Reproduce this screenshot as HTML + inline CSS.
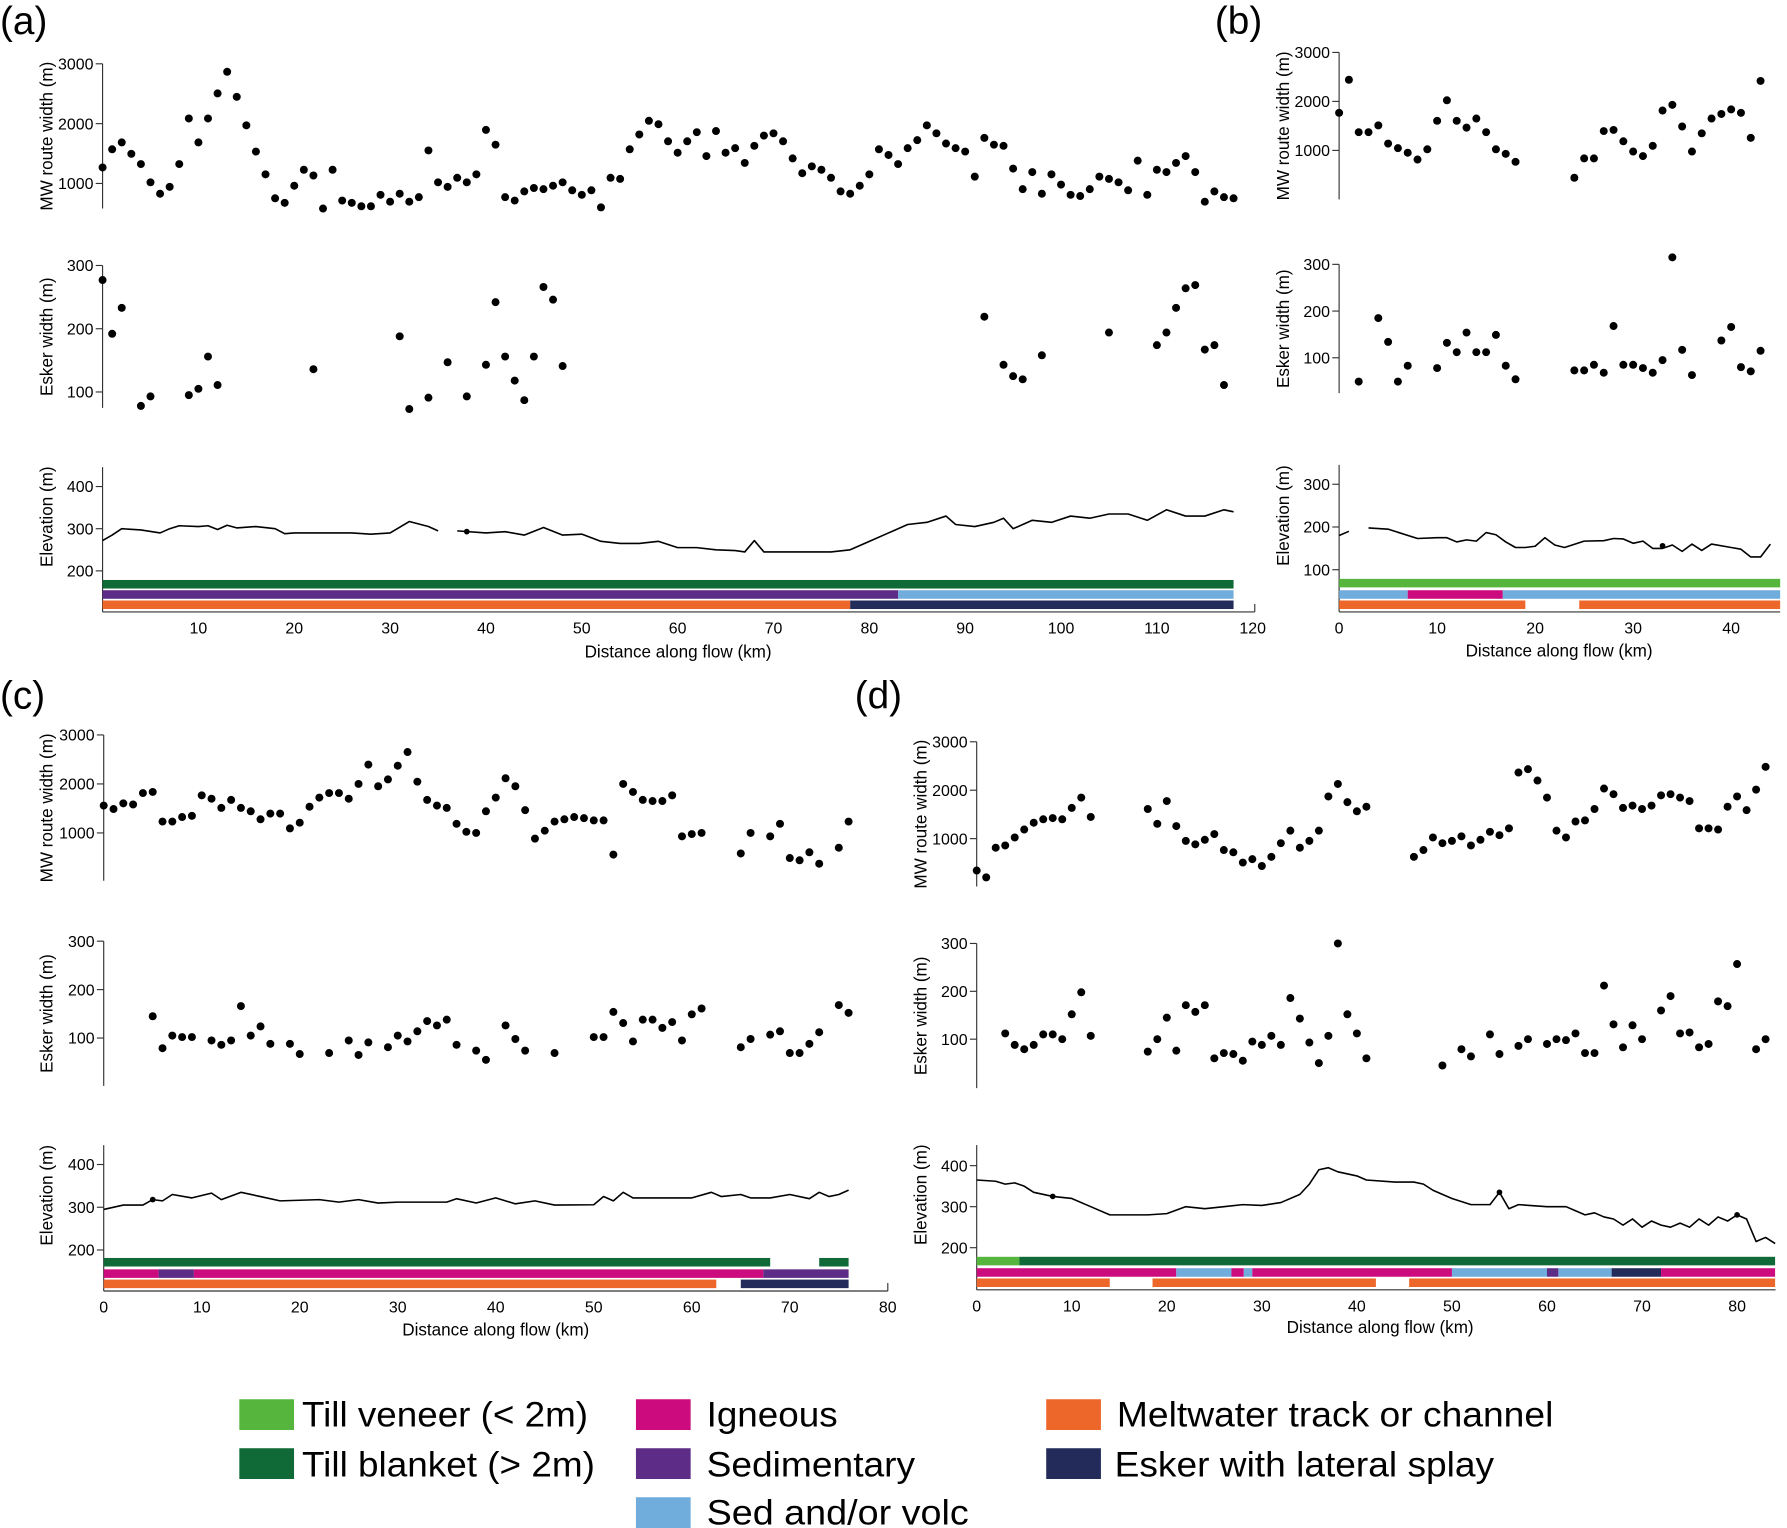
<!DOCTYPE html>
<html><head><meta charset="utf-8"><style>
html,body{margin:0;padding:0;background:#fff;}
svg{display:block;font-family:"Liberation Sans",sans-serif;}
</style></head><body>
<svg id="fig" width="1787" height="1528" viewBox="0 0 1568 1341" preserveAspectRatio="none" xmlns="http://www.w3.org/2000/svg">
<rect width="1568" height="1341" fill="#fff"/>
<g id="plots"></g>
<g font-size="31" fill="#000">
 <g><rect x="210" y="1228" width="48" height="27" fill="#55b53d"/><text x="265" y="1252" textLength="251" lengthAdjust="spacingAndGlyphs">Till veneer (&lt; 2m)</text></g>
 <g><rect x="210" y="1271" width="48" height="27" fill="#106a37"/><text x="265" y="1296" textLength="257" lengthAdjust="spacingAndGlyphs">Till blanket (&gt; 2m)</text></g>
 <g><rect x="558" y="1228" width="48" height="27" fill="#cc0c7e"/><text x="620" y="1252" textLength="115" lengthAdjust="spacingAndGlyphs">Igneous</text></g>
 <g><rect x="558" y="1271" width="48" height="27" fill="#5d2c86"/><text x="620" y="1296" textLength="183" lengthAdjust="spacingAndGlyphs">Sedimentary</text></g>
 <g><rect x="558" y="1314" width="48" height="27" fill="#70acdc"/><text x="620" y="1338" textLength="230" lengthAdjust="spacingAndGlyphs">Sed and/or volc</text></g>
 <g><rect x="918" y="1228" width="48" height="27" fill="#ee672a"/><text x="980" y="1252" textLength="383" lengthAdjust="spacingAndGlyphs">Meltwater track or channel</text></g>
 <g><rect x="918" y="1271" width="48" height="27" fill="#222b59"/><text x="978" y="1296" textLength="333" lengthAdjust="spacingAndGlyphs">Esker with lateral splay</text></g>
</g>
</svg>
<script>
// ---------- DATA ----------
// Panel (a)
const aMwKm = Array.from({length:119},(_, i)=>i);
const aMw = [1267,1571,1686,1495,1324,1019,828,943,1324,2086,1686,2086,2505,2867,2448,1971,1533,1152,752,676,962,1229,1133,581,1229,714,676,619,619,810,695,828,695,771,1552,1019,943,1095,1019,1152,1895,1648,771,714,867,924,905,962,1019,886,810,886,600,1095,1076,1571,1819,2048,1990,1705,1514,1705,1857,1457,1876,1514,1590,1343,1629,1800,1838,1705,1419,1171,1286,1229,1095,867,828,962,1152,1571,1476,1324,1590,1724,1971,1838,1667,1590,1533,1114,1762,1648,1629,1248,905,1190,828,1152,981,810,790,905,1114,1076,1019,886,1381,810,1229,1190,1343,1457,1190,695,867,771,752];
const aEskKm = [0,1,2,4,5,9,10,11,12,22,31,32,34,36,38,40,41,42,43,44,45,46,47,48,92,94,95,96,98,105,110,111,112,113,114,115,116,117];
const aEsk = [277,192,233,78,93,95,105,156,111,136,188,73,91,147,93,143,242,156,118,87,156,266,246,141,219,143,125,120,158,194,174,194,233,264,269,167,174,111];
const aElevKm = [0,1,2,4,6,7,8,10,11,12,13,14,16,18,19,20,22,24,26,28,30,32,34,35,null,37,40,42,44,46,48,50,52,54,56,58,60,62,64,66,67,68,69,72,76,78,80,82,84,86,88,89,91,93,94,95,97,99,101,103,105,107,109,111,113,115,117,118];
const aElev = [272,285,300,297,290,300,307,305,307,298,308,302,305,300,288,290,290,290,290,287,290,317,305,295,null,295,290,293,285,303,285,287,270,265,265,270,255,255,250,248,245,272,245,245,245,250,270,290,310,315,330,310,305,315,325,300,320,315,330,325,335,335,320,345,330,330,345,340];
const aPts = [38]; const aPtsV=[293];
const aBars = [[[0,118,'tb']],[[0,83,'sed'],[83,118,'sv']],[[0,78,'mw'],[78,118,'es']]];
// Panel (b)
const bMwKm = [0,1,2,3,4,5,6,7,8,9,10,11,12,13,14,15,16,17,18,24,25,26,27,28,29,30,31,32,33,34,35,36,37,38,39,40,41,42,43];
const bMw = [1767,2442,1372,1372,1511,1139,1046,953,814,1023,1604,2023,1604,1465,1651,1372,1023,930,767,442,837,837,1395,1418,1186,977,884,1093,1814,1930,1488,977,1349,1651,1744,1837,1767,1256,2418];
const bEskKm = [2,4,5,6,7,10,11,12,13,14,15,16,17,18,24,25,26,27,28,29,30,31,32,33,34,35,36,39,40,41,42,43];
const bEsk = [49,185,134,49,83,78,132,112,154,112,112,149,83,54,73,73,85,68,168,85,85,78,68,95,315,117,63,137,166,80,71,115];
const bElevKm = [0,1,null,3,5,8,10,11,12,13,14,15,16,17,18,19,20,21,22,23,25,27,28,29,30,31,32,33,34,35,36,37,38,40,41,42,43,44];
const bElev = [180,190,null,198,195,173,175,175,165,170,167,187,182,165,152,152,155,175,158,152,167,168,173,172,162,167,150,150,158,143,160,145,160,152,148,130,130,160];
const bPts=[33]; const bPtsV=[156];
const bBars = [[[0,45,'tv']],[[0,7,'sv'],[7,16.7,'ig'],[16.7,45,'sv']],[[0,19,'mw'],[24.5,45,'mw']]];
// Panel (c)
const cMwKm = [0,1,2,3,4,5,6,7,8,9,10,11,12,13,14,15,16,17,18,19,20,21,22,23,24,25,26,27,28,29,30,31,32,33,34,35,36,37,38,39,40,41,42,43,44,45,46,47,48,49,50,51,52,53,54,55,56,57,58,59,60,61,65,66,68,69,70,71,72,73,75,76];
const cMw = [1558,1488,1604,1581,1814,1837,1232,1232,1325,1349,1767,1698,1511,1674,1511,1442,1279,1395,1395,1093,1209,1535,1721,1814,1814,1698,2000,2395,1953,2093,2372,2651,2046,1674,1558,1511,1186,1023,1000,1442,1721,2116,1953,1465,884,1046,1232,1279,1325,1302,1256,1256,558,2000,1837,1674,1651,1651,1767,930,977,1000,581,1000,930,1186,488,442,605,372,698,1232];
const cEskKm = [5,6,7,8,9,11,12,13,14,15,16,17,19,20,23,25,26,27,29,30,31,32,33,34,35,36,38,39,41,42,43,46,50,51,52,53,54,55,56,57,58,59,60,61,65,66,68,69,70,71,72,73,75,76];
const cEsk = [145,79,105,102,102,95,86,95,166,105,124,88,88,67,69,95,65,91,81,105,93,114,135,126,138,86,74,55,126,98,74,69,102,102,154,131,93,138,138,121,133,95,149,161,81,98,107,114,69,69,88,112,168,152];
const cElevKm = [0,2,4,5,6,7,9,11,12,14,16,18,22,24,26,28,30,35,36,38,40,42,44,46,50,51,52,53,54,56,60,62,63,65,66,68,70,72,73,74,75,76];
const cElev = [295,305,305,318,315,330,322,333,318,335,325,315,318,312,318,310,312,312,320,310,322,308,315,305,306,325,315,335,322,322,322,335,325,330,322,322,330,320,335,325,330,340];
const cPts=[5]; const cPtsV=[318];
const cBars = [[[0,68,'tb'],[73,76,'tb']],[[0,5.6,'ig'],[5.6,9.2,'sed'],[9.2,67.3,'ig'],[67.3,76,'sed']],[[0,62.5,'mw'],[65,76,'es']]];
// Panel (d)
const dMwKm = [0,1,2,3,4,5,6,7,8,9,10,11,12,18,19,20,21,22,23,24,25,26,27,28,29,30,31,32,33,34,35,36,37,38,39,40,41,46,47,48,49,50,51,52,53,54,55,56,57,58,59,60,61,62,63,64,65,66,67,68,69,70,71,72,73,74,75,76,77,78,79,80,81,82,83];
const dMw = [341,200,812,859,1024,1188,1329,1400,1424,1400,1635,1847,1447,1612,1306,1776,1259,953,882,976,1094,765,718,506,576,435,624,906,1165,812,953,1165,1871,2129,1753,1565,1659,624,765,1024,906,953,1047,859,976,1141,1071,1212,2365,2435,2200,1847,1165,1024,1353,1376,1612,2035,1918,1635,1682,1612,1682,1894,1918,1847,1776,1212,1212,1188,1659,1871,1588,2012,2482];
const dEskKm = [3,4,5,6,7,8,9,10,11,12,18,19,20,21,22,23,24,25,26,27,28,29,30,31,32,33,34,35,36,37,38,39,40,41,49,51,52,54,55,57,58,60,61,62,63,64,65,66,67,68,69,70,72,73,74,75,76,77,78,79,80,82,83];
const dEsk = [112,88,79,88,110,110,100,152,198,107,74,100,145,76,171,157,171,60,71,69,55,95,88,107,88,186,143,93,50,107,300,152,112,60,45,79,64,110,69,86,100,90,100,98,112,71,71,212,131,83,129,100,160,190,112,114,83,90,179,169,257,79,100];
const dElevKm = [0,2,3,4,5,6,8,10,12,14,18,20,22,24,26,28,30,32,34,35,36,37,38,40,41,44,46,47,48,50,52,54,55,56,57,60,62,63,64,65,66,67,68,69,70,71,72,73,74,75,76,77,78,79,80,81,82,83,84];
const dElev = [365,362,355,358,350,335,325,320,300,280,280,283,300,295,300,305,303,310,330,355,390,395,385,375,365,360,360,355,340,320,305,305,335,295,305,300,300,290,280,285,275,270,255,270,250,265,255,250,260,250,270,255,275,265,280,270,215,225,210];
const dPts=[8,55,80]; const dPtsV=[325,335,280];
const dBars = [[[0,4.5,'tv'],[4.5,84,'tb']],[[0,21,'ig'],[21,26.8,'sv'],[26.8,28.1,'ig'],[28.1,29,'sv'],[29,50,'ig'],[50,60,'sv'],[60,61.2,'sed'],[61.2,66.8,'sv'],[66.8,72,'es'],[72,84,'ig']],[[0,14,'mw'],[18.5,42,'mw'],[45.5,84,'mw']]];

const colors = {tv:'#55b53d',tb:'#106a37',ig:'#cc0c7e',sed:'#5d2c86',sv:'#70acdc',mw:'#ee672a',es:'#222b59'};

// ---------- LAYOUT ----------
const panels = [
 {id:'a', letter:[0,30], x0:90, ppk:8.41, xTicks:[10,20,30,40,50,60,70,80,90,100,110,120], xEnd:1101, endTick:true, xAxisY:537, titleX:595, titleY:577, yTitleX:46,
  mw:{top:56,bot:183,v1:3000,y1:56,v2:1000,y2:161,ticks:[1000,2000,3000],km:aMwKm,val:aMw},
  esk:{top:233,bot:358,v1:300,y1:233,v2:100,y2:344,ticks:[100,200,300],km:aEskKm,val:aEsk},
  el:{top:410,v1:400,y1:427,v2:200,y2:501,ticks:[200,300,400],km:aElevKm,val:aElev,pk:aPts,pv:aPtsV},
  bars:aBars, barY:[509,518,527], barH:7.5},
 {id:'b', letter:[1066,30], x0:1175, ppk:8.6, xTicks:[0,10,20,30,40], xEnd:1562, endTick:false, xAxisY:537, titleX:1368, titleY:576, yTitleX:1131,
  mw:{top:46,bot:175,v1:3000,y1:46,v2:1000,y2:132,ticks:[1000,2000,3000],km:bMwKm,val:bMw},
  esk:{top:232,bot:345,v1:300,y1:232,v2:100,y2:314,ticks:[100,200,300],km:bEskKm,val:bEsk},
  el:{top:408,v1:300,y1:425,v2:100,y2:500,ticks:[100,200,300],km:bElevKm,val:bElev,pk:bPts,pv:bPtsV},
  bars:bBars, barY:[508,518,527], barH:7.5},
 {id:'c', letter:[0,622], x0:91, ppk:8.6, xTicks:[0,10,20,30,40,50,60,70,80], xEnd:779, endTick:true, xAxisY:1133, titleX:435, titleY:1172, yTitleX:46,
  mw:{top:645,bot:773,v1:3000,y1:645,v2:1000,y2:731,ticks:[1000,2000,3000],km:cMwKm,val:cMw},
  esk:{top:826,bot:953,v1:300,y1:826,v2:100,y2:911,ticks:[100,200,300],km:cEskKm,val:cEsk},
  el:{top:1005,v1:400,y1:1022,v2:200,y2:1097,ticks:[200,300,400],km:cElevKm,val:cElev,pk:cPts,pv:cPtsV},
  bars:cBars, barY:[1104,1114,1123], barH:7.5},
 {id:'d', letter:[750,622], x0:857, ppk:8.34, xTicks:[0,10,20,30,40,50,60,70,80], xEnd:1558, endTick:false, xAxisY:1132, titleX:1211, titleY:1170, yTitleX:813,
  mw:{top:651,bot:778,v1:3000,y1:651,v2:1000,y2:736,ticks:[1000,2000,3000],km:dMwKm,val:dMw},
  esk:{top:828,bot:955,v1:300,y1:828,v2:100,y2:912,ticks:[100,200,300],km:dEskKm,val:dEsk},
  el:{top:1005,v1:400,y1:1023,v2:200,y2:1095,ticks:[200,300,400],km:dElevKm,val:dElev,pk:dPts,pv:dPtsV},
  bars:dBars, barY:[1103,1113,1122], barH:7.5}
];

const NS='http://www.w3.org/2000/svg';
const root=document.getElementById('plots');
function mk(tag,attrs,parent,txt){const e=document.createElementNS(NS,tag);for(const k in attrs)e.setAttribute(k,attrs[k]);if(txt!==undefined)e.textContent=txt;parent.appendChild(e);return e;}
const names={mw:'MW route width (m)',esk:'Esker width (m)',el:'Elevation (m)'};

panels.forEach(p=>{
  const g=mk('g',{},root);
  
  
  const X=km=>p.x0+km*p.ppk;
  const lt=mk('text',{x:p.letter[0],y:p.letter[1],'font-size':34},g,'('+p.id+')');
  
  
  ['mw','esk','el'].forEach(k=>{
    const s=p[k];
    const Y=v=>s.y1+(v-s.v1)*(s.y2-s.y1)/(s.v2-s.v1);
    const sg=mk('g',{},g);
    
    
    const bot=k==='el'?p.xAxisY:s.bot;
    const ax=mk('line',{x1:p.x0,x2:p.x0,y1:s.top,y2:bot,stroke:'#333','stroke-width':1},sg);
    
    
    s.ticks.forEach(t=>{
      mk('line',{x1:p.x0-6,x2:p.x0,y1:Y(t),y2:Y(t),stroke:'#333','stroke-width':1},sg);
      const tl=mk('text',{x:p.x0-8,y:Y(t)+5,'font-size':14,'text-anchor':'end'},sg,String(t));
      
      
    });
    const cy=(s.top+bot)/2 - (k==='el'?20:0);
    const yt=mk('text',{x:p.yTitleX,y:cy,'font-size':15,'text-anchor':'middle',transform:'rotate(-90 '+p.yTitleX+' '+cy+')'},sg,names[k]);
    
    
    if(k==='el'){
      let d='',pen=false;
      s.km.forEach((km,i)=>{
        if(km===null||s.val[i]===null){pen=false;return;}
        d+=(pen?'L':'M')+X(km).toFixed(1)+' '+Y(s.val[i]).toFixed(1);pen=true;
      });
      const ln=mk('path',{d:d,fill:'none',stroke:'#000','stroke-width':1.4,'stroke-linejoin':'round'},sg);
      
      
      s.pk.forEach((km,i)=>{
        const c=mk('circle',{cx:X(km),cy:Y(s.pv[i]),r:2.5,fill:'#000'},sg);
        
        
      });
    } else {
      const n=Math.min(s.km.length,s.val.length);
      for(let i=0;i<n;i++){
        const c=mk('circle',{cx:X(s.km[i]),cy:Y(s.val[i]),r:3.5,fill:'#000'},sg);
        
        
      }
    }
  });
  // bars
  p.bars.forEach((row,ri)=>{
    row.forEach(seg=>{
      const r=mk('rect',{x:X(seg[0]),y:p.barY[ri],width:X(seg[1])-X(seg[0]),height:p.barH,fill:colors[seg[2]]},g);
      
      
    });
  });
  // x axis
  const xa=mk('line',{x1:p.x0,x2:p.xEnd,y1:p.xAxisY,y2:p.xAxisY,stroke:'#333','stroke-width':1},g);
  
  
  if(p.endTick) mk('line',{x1:p.xEnd,x2:p.xEnd,y1:p.xAxisY-7,y2:p.xAxisY,stroke:'#333','stroke-width':1},g);
  p.xTicks.forEach(t=>{
    const xl=mk('text',{x:X(t),y:p.xAxisY+19,'font-size':14,'text-anchor':'middle'},g,String(t));
    
    
  });
  const xt=mk('text',{x:p.titleX,y:p.titleY,'font-size':15,'text-anchor':'middle'},g,'Distance along flow (km)');
  
  
});
</script>
</body></html>
